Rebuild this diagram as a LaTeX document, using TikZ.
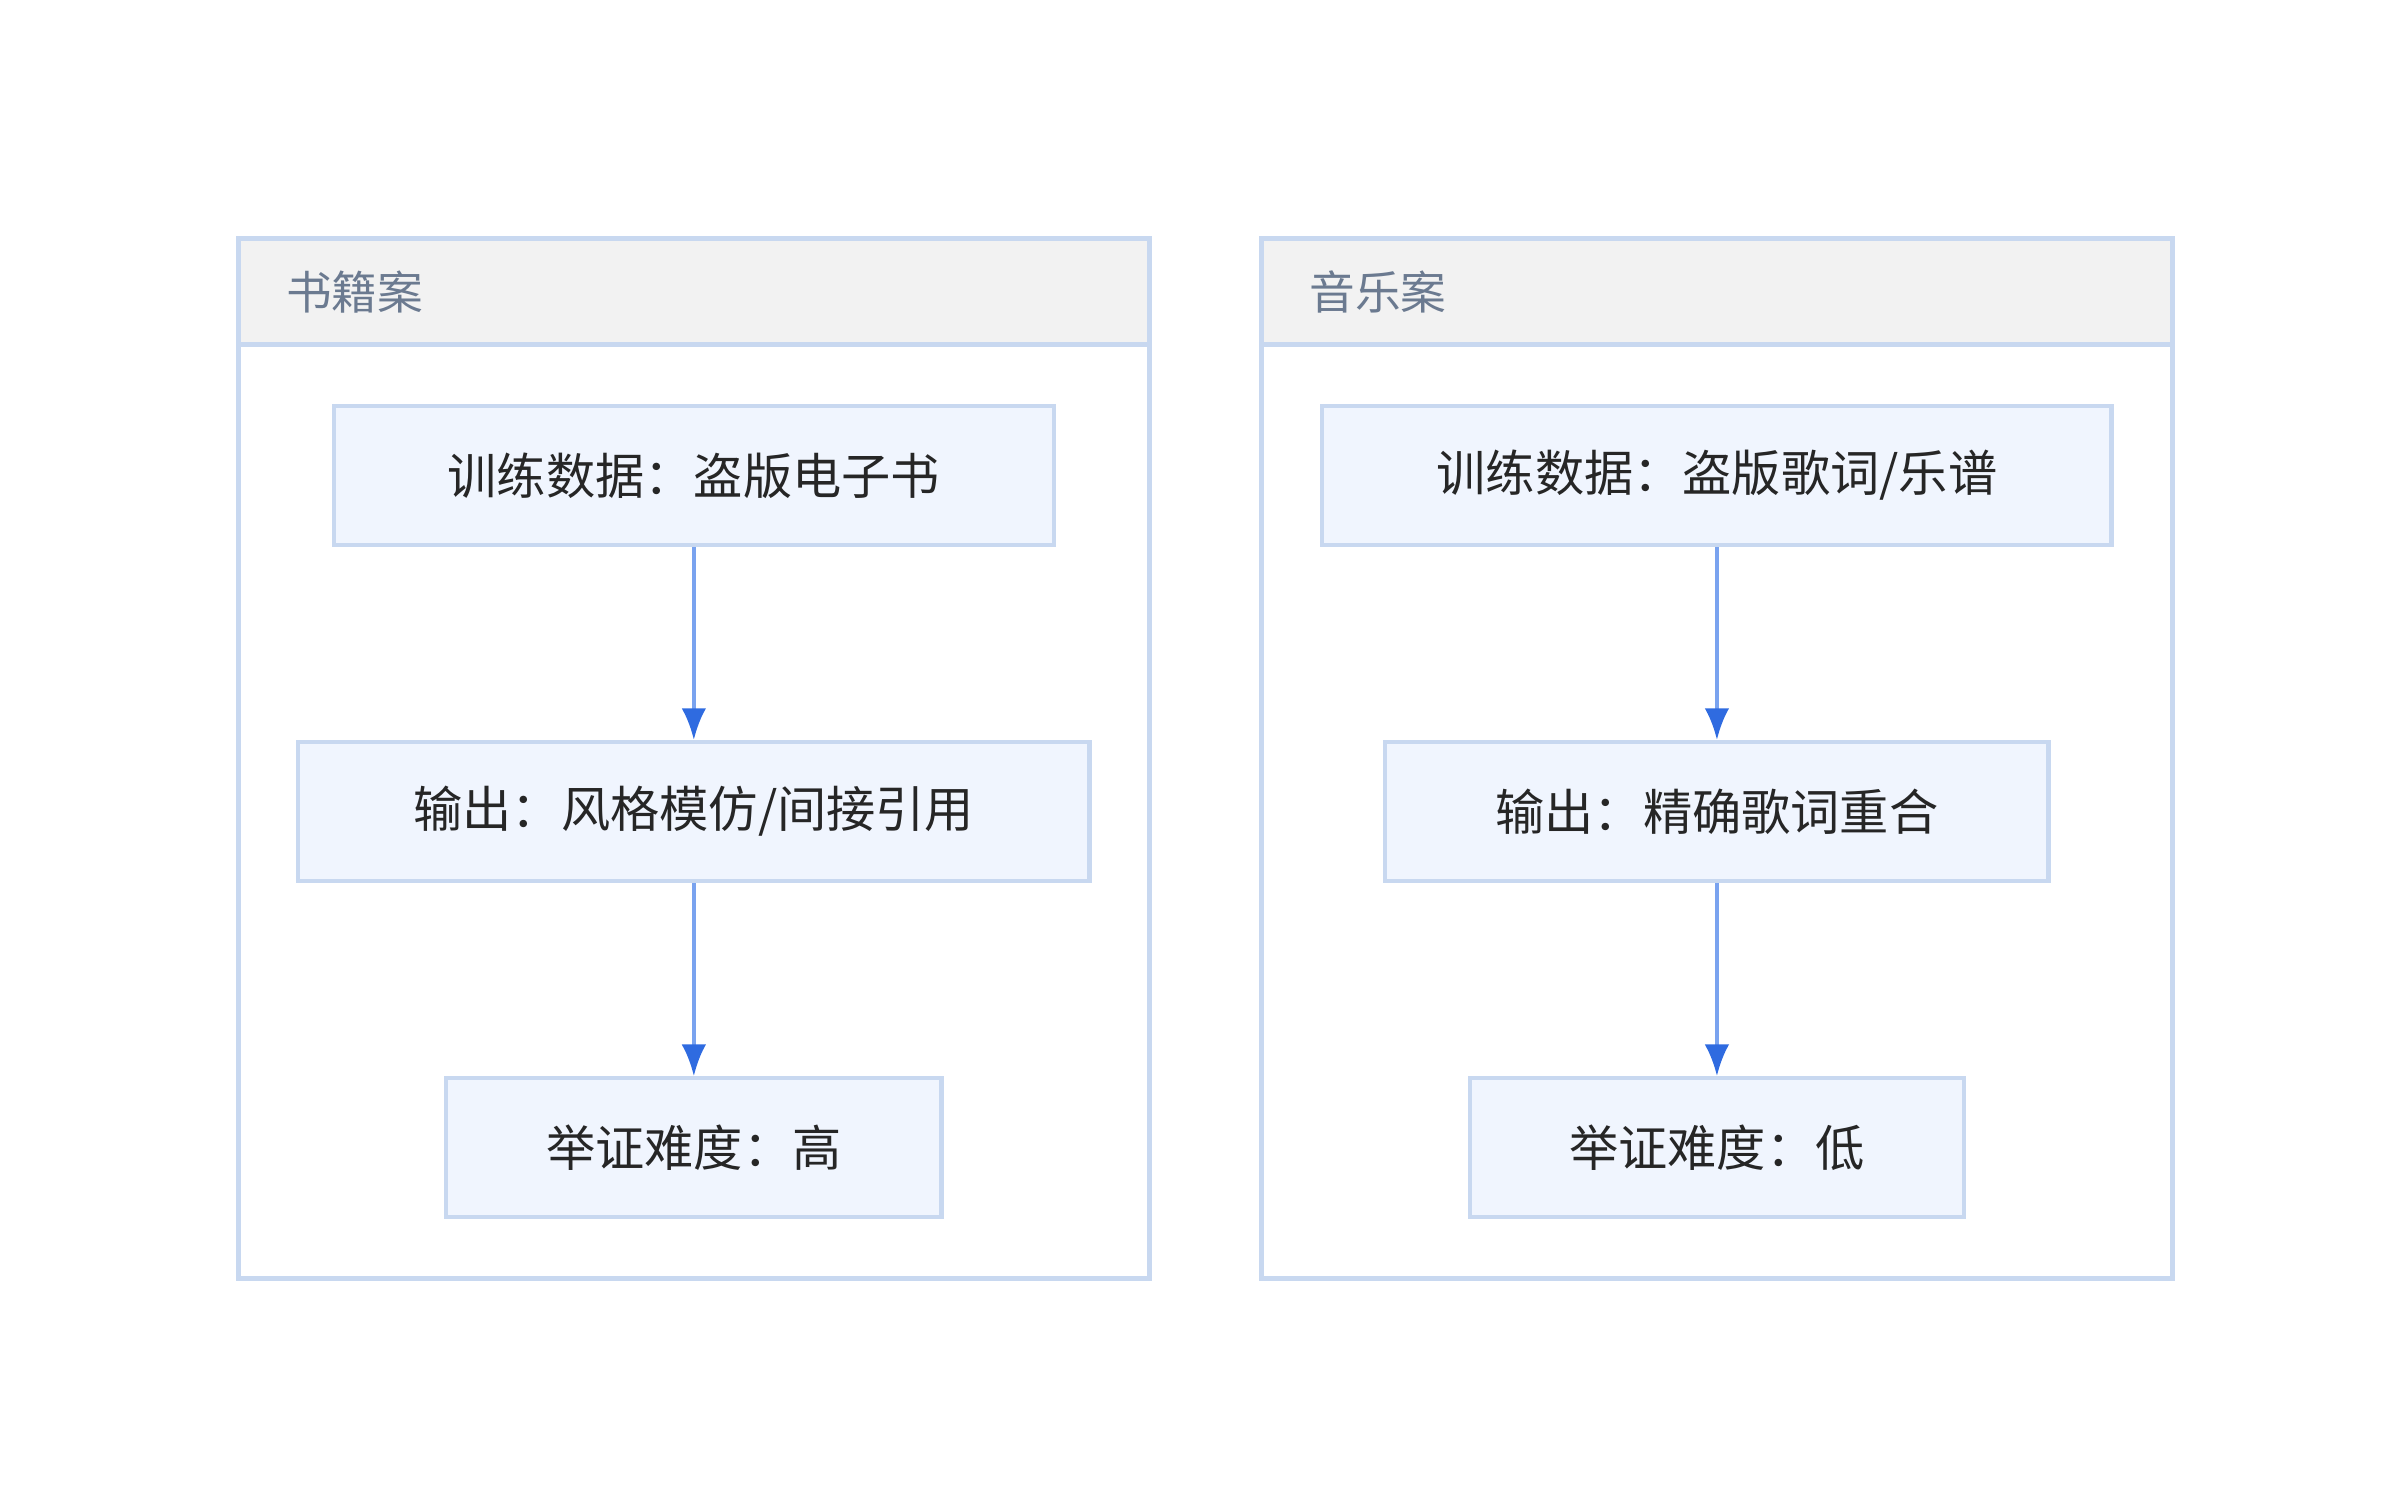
\documentclass[tikz,border=0pt]{standalone}
\usepackage{fontspec}
\setmainfont{Noto Sans CJK SC}
\usetikzlibrary{positioning,arrows.meta}
\definecolor{frameblue}{HTML}{C8D8F0}
\definecolor{boxfill}{HTML}{F0F5FE}
\definecolor{headfill}{HTML}{F2F2F2}
\definecolor{titlegray}{HTML}{6B7A90}
\definecolor{lineblue}{HTML}{7AA3EF}
\definecolor{tipblue}{HTML}{2F6BE0}
\tikzset{
  stage/.style={draw=frameblue, line width=1.2pt, fill=boxfill, font=\fontsize{14}{16}\selectfont, text=black!85, minimum height=1.39cm, inner sep=0pt},
  flow/.style={draw=lineblue, line width=1.1pt, -{Latex[length=9pt,width=7pt,fill=tipblue,color=tipblue]}},
  frame/.style={draw=frameblue, line width=1.3pt},
  head/.style={draw=frameblue, line width=1.3pt, fill=headfill}
}
\begin{document}
\begin{tikzpicture}[x=0.015385cm, y=-0.015385cm]
  \useasboundingbox (0,0) rectangle (1560,981.5);
  % clusters
  \draw[frame] (155,155) rectangle (747,831);
  \draw[head] (155,155) rectangle (747,224);
  \node[anchor=west, text=titlegray, font=\fontsize{13}{15}\selectfont] (booktitle) at (178,190) {书籍案};
  \draw[frame] (820,155) rectangle (1412,831);
  \draw[head] (820,155) rectangle (1412,224);
  \node[anchor=west, text=titlegray, font=\fontsize{13}{15}\selectfont] (musictitle) at (843,190) {音乐案};
  % book case
  \node[stage, minimum width=7.2cm] (bookdata) at (451,309) {训练数据：盗版电子书};
  \node[stage, minimum width=7.91cm] (bookout) at (451,527.5) {输出：风格模仿/间接引用};
  \node[stage, minimum width=4.95cm] (bookproof) at (451,746) {举证难度：高};
  % music case
  \node[stage, minimum width=7.89cm] (musicdata) at (1116,309) {训练数据：盗版歌词/乐谱};
  \node[stage, minimum width=6.63cm] (musicout) at (1116,527.5) {输出：精确歌词重合};
  \node[stage, minimum width=4.94cm] (musicproof) at (1116,746) {举证难度：低};
  \draw[flow] (bookdata) -- (bookout);
  \draw[flow] (bookout) -- (bookproof);
  \draw[flow] (musicdata) -- (musicout);
  \draw[flow] (musicout) -- (musicproof);
\end{tikzpicture}
\end{document}
